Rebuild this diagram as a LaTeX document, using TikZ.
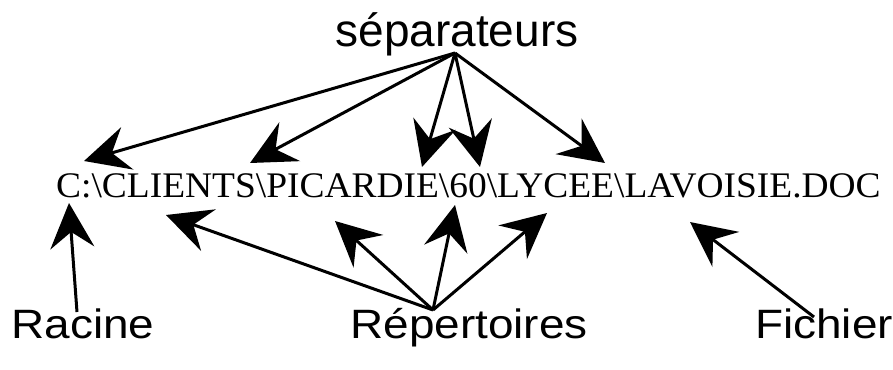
\documentclass[tikz,border=0pt]{standalone}
\usepackage{fontspec}
\usepackage{graphicx}
\setmainfont{Liberation Serif}
\newfontfamily\labelfont{Liberation Sans}
\usetikzlibrary{arrows.meta}
\newcommand{\wlbl}[1]{\scalebox{1.12}[1]{#1}}
\tikzset{
  lbl/.style={font=\labelfont\fontsize{41}{45}\selectfont, inner sep=0pt, anchor=base},
  pathtxt/.style={font=\fontsize{36}{40}\selectfont, inner sep=0pt, anchor=base west},
  arr/.style={line width=3pt, -{Stealth[length=45pt, width=44pt, inset=16pt]}}
}
\begin{document}
\begin{tikzpicture}[x=1pt, y=-1pt]
\useasboundingbox (0,0) rectangle (893,369);
\node[lbl, font=\labelfont\fontsize{46}{50}\selectfont] (sep) at (457,47) {séparateurs};
\node[pathtxt] (path) at (56,197) {\scalebox{1.04}[1]{C:\textbackslash CLIENTS\textbackslash PICARDIE\textbackslash 60\textbackslash LYCEE\textbackslash LAVOISIE.DOC}};
\node[lbl] (rac) at (83,338) {\wlbl{Racine}};
\node[lbl] (rep) at (469,338) {\wlbl{Répertoires}};
\node[lbl] (fic) at (824,338) {\wlbl{Fichier}};
% start points
\coordinate (sa) at (455,53);
\coordinate (ra) at (433,310);
\coordinate (rs) at (77,312);
\coordinate (fs) at (814,317);
% tips
\coordinate (t1) at (84,161);
\coordinate (t2) at (250,163);
\coordinate (t3) at (422,167);
\coordinate (t4) at (480,167);
\coordinate (t5) at (605,163);
\coordinate (b1) at (166,215);
\coordinate (b2) at (335,221);
\coordinate (b3) at (455,205);
\coordinate (b4) at (547,213);
\coordinate (rt) at (69,203);
\coordinate (ft) at (690,222);
\foreach \t in {t1,t2,t3,t4,t5} \draw[arr] (sa) -- (\t);
\foreach \t in {b1,b2,b3,b4} \draw[arr] (ra) -- (\t);
\draw[arr] (rs) -- (rt);
\draw[arr] (fs) -- (ft);
\end{tikzpicture}
\end{document}
